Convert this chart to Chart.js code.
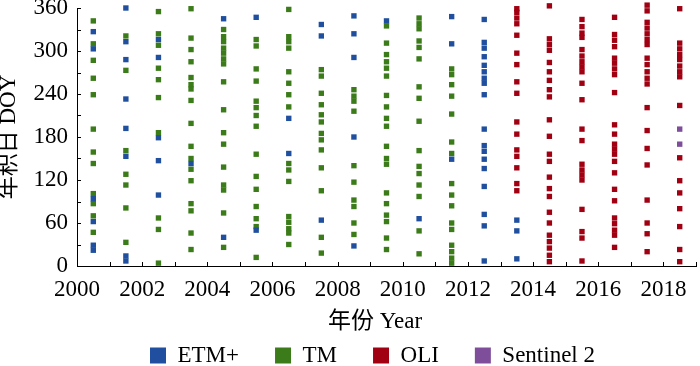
<!DOCTYPE html>
<html>
<head>
<meta charset="utf-8">
<title>DOY scatter</title>
<script src="https://cdn.jsdelivr.net/npm/chart.js"></script>
<style>
  html, body { margin: 0; padding: 0; background: #fff; }
</style>
</head>
<body>
<canvas id="myChart" width="700" height="366"></canvas>
<script>
// years on the x axis, one column of marks per year
const years = [2000, 2001, 2002, 2003, 2004, 2005, 2006, 2007, 2008, 2009,
               2010, 2011, 2012, 2013, 2014, 2015, 2016, 2017, 2018];
const yTickValues = [0, 30, 60, 90, 120, 150, 180, 210, 240, 270, 300, 330, 360];

// day of year of each image, one list per year (same order as years)
const etmDoy = [
  [327, 303, 94, 62, 29, 22],
  [360, 313, 288, 233, 192, 153, 14, 7],
  [316, 291, 179, 147, 99],
  [143],
  [345, 40],
  [347, 50],
  [206, 157],
  [337, 321, 64],
  [349, 324, 291, 180, 28],
  [342],
  [66],
  [348, 310, 149],
  [344, 312, 304, 292, 280, 271, 262, 255, 239, 191, 168, 160, 149, 136, 111, 72, 56, 7],
  [64, 49, 10],
  [], [], [], [], []
];
const tmDoy = [
  [342, 310, 287, 262, 239, 191, 159, 143, 101, 87, 70, 47],
  [321, 273, 161, 128, 113, 81, 33],
  [355, 324, 308, 276, 260, 235, 186, 67, 51, 4],
  [359, 318, 302, 285, 263, 253, 247, 231, 199, 167, 150, 135, 119, 87, 77, 46, 23],
  [330, 320, 313, 304, 297, 289, 282, 257, 218, 186, 170, 138, 113, 106, 74, 26],
  [316, 307, 275, 258, 230, 221, 210, 195, 156, 125, 107, 83, 66, 55, 12],
  [358, 320, 313, 304, 271, 255, 239, 222, 143, 134, 118, 69, 61, 52, 46, 30],
  [274, 265, 241, 225, 211, 201, 185, 176, 162, 137, 105, 40, 18],
  [246, 237, 230, 216, 140, 117, 92, 83, 60, 44],
  [335, 311, 295, 285, 276, 265, 238, 222, 206, 195, 167, 150, 142, 102, 87, 71, 62, 39, 23],
  [346, 338, 331, 314, 305, 289, 250, 234, 202, 161, 139, 129, 113, 97, 49, 17],
  [275, 267, 253, 237, 212, 173, 157, 115, 99, 84, 60, 51, 29, 20, 11, 4],
  [], [], [], [], [], [], []
];
const oliDoy = [
  [], [], [], [], [], [], [], [], [], [], [], [], [],
  [359, 354, 346, 338, 322, 297, 281, 257, 241, 201, 184, 162, 153, 137, 115, 105],
  [363, 317, 309, 301, 284, 271, 259, 246, 236, 204, 181, 156, 146, 124, 108, 97, 75, 60, 43, 34, 25, 15, 6],
  [344, 334, 325, 319, 302, 293, 285, 278, 271, 255, 232, 191, 175, 142, 134, 127, 120, 79, 48, 39, 7],
  [347, 323, 315, 306, 290, 283, 275, 267, 242, 197, 184, 170, 163, 156, 146, 130, 107, 91, 67, 59, 50, 43, 26],
  [364, 356, 340, 332, 324, 316, 309, 290, 281, 271, 262, 254, 221, 189, 164, 141, 92, 60, 45, 20],
  [359, 311, 303, 295, 288, 279, 271, 264, 224, 151, 119, 102, 80, 55, 23, 6]
];
const s2Doy = [
  [], [], [], [], [], [], [], [], [], [], [], [], [], [], [], [], [], [],
  [191, 170]
];

function toPoints(doyByYear) {
  const pts = [];
  doyByYear.forEach((list, i) => list.forEach(d => pts.push({ x: years[i], y: d })));
  return pts;
}

const font = { family: "'Liberation Serif', 'Noto Sans CJK SC', serif", size: 23 };

function series(label, data, color) {
  return {
    label: label,
    data: toPoints(data),
    backgroundColor: color,
    borderColor: color,
    borderWidth: 0,
    pointStyle: 'rect',
    pointRadius: 3.8,
    clip: false
  };
}

// small tick marks pointing into the plot
const innerTicks = {
  id: 'innerTicks',
  afterDraw(chart) {
    const { ctx, chartArea: a, scales: { x, y } } = chart;
    ctx.save();
    ctx.strokeStyle = '#000';
    ctx.lineWidth = 1;
    ctx.beginPath();
    x.ticks.forEach(t => {
      const px = Math.round(x.getPixelForValue(t.value)) + 0.5;
      ctx.moveTo(px, a.bottom);
      ctx.lineTo(px, a.bottom - 4);
    });
    y.ticks.forEach(t => {
      const py = Math.round(y.getPixelForValue(t.value)) + 0.5;
      ctx.moveTo(a.left, py);
      ctx.lineTo(a.left + 4, py);
    });
    ctx.stroke();
    ctx.restore();
  }
};

const ctx = document.getElementById('myChart').getContext('2d');
const myChart = new Chart(ctx, {
  type: 'scatter',
  data: {
    datasets: [
      series('ETM+', etmDoy, '#1f4f9e'),
      series('TM', tmDoy, '#3b7b19'),
      series('OLI', oliDoy, '#a00012'),
      series('Sentinel 2', s2Doy, '#7e4e9b')
    ]
  },
  options: {
    responsive: false,
    animation: false,
    events: [],
    // legend sits a bit right of the canvas centre, as in the original
    layout: { padding: { left: 20, right: -25, top: 8, bottom: -11 } },
    scales: {
      x: {
        type: 'linear',
        min: 1999.5,
        max: 2018.5,
        afterBuildTicks: s => { s.ticks = years.concat([2019]).map(v => ({ value: v - 0.5 })); },
        afterFit: s => { s.height = 42; s.paddingLeft = 0; s.paddingRight = 0; },
        ticks: {
          autoSkip: false,
          maxRotation: 0,
          padding: 10,
          color: '#000',
          font: font,
          callback: v => {
            const yr = Math.round(v + 0.5);
            return yr % 2 === 0 ? String(yr) : '';
          }
        },
        grid: { display: false, drawTicks: false },
        border: { display: true, color: '#000', width: 1 },
        title: {
          display: true,
          text: '年份 Year\u00a0\u00a0\u00a0\u00a0',
          color: '#000',
          font: font,
          padding: { top: 0, bottom: -28 }
        }
      },
      y: {
        min: 0,
        max: 360,
        afterBuildTicks: s => { s.ticks = yTickValues.map(v => ({ value: v })); },
        afterFit: s => { s.width = 57; s.paddingTop = 0; s.paddingBottom = 0; },
        ticks: {
          autoSkip: false,
          padding: 9,
          color: '#000',
          font: font,
          callback: v => (v % 60 === 0 ? String(v) : '')
        },
        grid: { display: false, drawTicks: false },
        border: { display: true, color: '#000', width: 1 },
        title: {
          display: true,
          text: '年积日 DOY',
          color: '#000',
          font: font,
          padding: { top: -25, bottom: 0 }
        }
      },
      // empty spacer on the right so the plot ends at the canvas edge
      yr: {
        position: 'right',
        ticks: { display: false },
        grid: { display: false, drawTicks: false },
        border: { display: false },
        afterFit: s => { s.width = 26; }
      }
    },
    plugins: {
      legend: {
        position: 'bottom',
        labels: { boxWidth: 16, boxHeight: 16, padding: 36, color: '#000', font: font }
      },
      tooltip: { enabled: false }
    }
  },
  plugins: [innerTicks]
});
</script>
</body>
</html>
